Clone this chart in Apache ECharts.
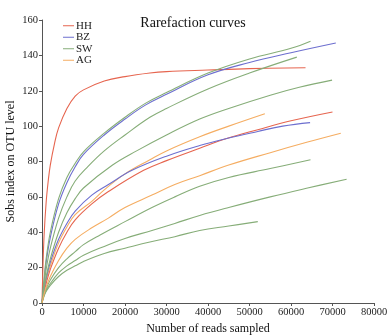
<!DOCTYPE html>
<html>
<head>
<meta charset="utf-8">
<script src="https://cdn.jsdelivr.net/npm/echarts@6/dist/echarts.min.js"></script>
<style>html,body{margin:0;padding:0;background:#fff}#main{width:392px;height:336px}</style>
</head>
<body>
<div id="main"></div>
<script>
// 曲线数据 [reads, sobs]
var hh1 = [[0,0],[200,18],[500,38],[1000,57],[1500,69],[2000,78],[3000,90],[4000,99],[6000,110],[8000,117],[10000,120.5],[15000,125.5],[20000,128],[26000,130],[30000,130.8],[40000,131.7],[50000,132.5],[63500,133]];
var hh2 = [[0,0],[500,6],[1000,11],[2000,19],[4000,31],[6000,40],[8000,47],[12000,56],[16000,63],[24500,75],[30000,80.5],[38000,87.5],[44500,93],[52000,98],[60000,103],[70000,108]];
var bz1 = [[0,0],[500,12],[1000,23],[2000,37],[4000,56],[6000,68],[8000,77],[10000,84],[15000,95],[20000,104],[25000,112],[30000,118],[40000,129],[50000,136],[60000,141.5],[70800,147]];
var bz2 = [[0,0],[500,8],[1000,14],[2000,23],[4000,36],[6000,45],[8000,52],[12000,61],[16000,67],[21700,75],[30000,83],[38000,89],[44500,93],[52000,97],[58000,100],[64600,102]];
var sw1 = [[0,0],[500,14],[1000,25],[2000,40],[4000,59],[6000,71],[8000,79],[10000,85.5],[15000,96],[20000,105],[25000,113],[30000,119],[40000,130],[50000,138],[60000,144],[64700,148]];
var sw2 = [[0,0],[500,10],[1000,19],[2000,31],[4000,48],[6000,60],[8000,69],[11000,77],[15000,86],[20000,95],[26000,105],[30000,110],[40000,121],[50000,130],[61400,139]];
var sw3 = [[0,0],[500,8],[1000,15],[2000,25],[4000,40],[6000,51],[8000,59],[10000,65],[17000,78],[22800,86],[30000,95],[38000,104],[45000,110],[55000,117.5],[62000,122],[69900,126]];
var sw4 = [[0,0],[500,5],[1000,8],[2000,13],[4000,20],[6000,25],[8000,29],[10000,33],[14000,38.5],[20000,46],[26500,54],[32000,60],[38000,66],[45000,71],[55000,76],[64700,81]];
var sw5 = [[0,0],[500,4],[1000,7],[2000,11],[4000,17],[6000,21],[8000,24],[10000,27],[15000,32],[20000,36.5],[26500,41],[32000,45],[38000,49.5],[45000,54],[55000,60],[64000,65],[73400,70]];
var sw6 = [[0,0],[500,4],[1000,6.5],[2000,10],[4000,15],[6000,18.5],[8000,21],[10000,23.5],[15000,28],[20000,31],[26000,34.5],[32000,37.5],[38000,41],[45000,43.5],[52000,46]];
var ag1 = [[0,0],[500,7],[1000,13],[2000,21],[4000,34],[6000,43],[8000,50],[12000,57.5],[15000,64],[20000,73],[26000,81],[30000,86],[38000,94],[45000,100],[53700,107]];
var ag2 = [[0,0],[500,5],[1000,9],[2000,15],[4000,24],[6000,31],[8000,36],[12000,42.5],[16000,48],[20000,54],[26500,61],[32000,67],[38000,72],[45000,78],[55000,85],[64000,91],[72000,96]];

var groups = ['HH','BZ','SW','AG'];
var colors = {HH:'#e6654f', BZ:'#6d6fcf', SW:'#86ad78', AG:'#f5ad62'};

var myChart = echarts.init(document.getElementById('main'));

function mk(name, data){
    return {
        name: name,
        type: 'line',
        data: data,
        smooth: 0.4,
        showSymbol: false,
        silent: true,
        itemStyle: {color: colors[name]},
        lineStyle: {color: colors[name], width: 1.1}
    };
}

var font = 'Liberation Serif';
option = {
    animation: false,
    backgroundColor: '#fff',
    title: {
        text: 'Rarefaction curves',
        left: 188, top: 11,
        textAlign: 'center',
        textStyle: {fontFamily: font, fontSize: 14, fontWeight: 'normal', color: '#111'}
    },
    legend: {
        data: groups,
        orient: 'vertical',
        left: 58, top: 15,
        icon: 'rect',
        itemWidth: 11, itemHeight: 1,
        itemGap: 0,
        textStyle: {fontFamily: font, fontSize: 11, color: '#222', lineHeight: 11.5, padding: [0,0,0,-3]}
    },
    grid: {left: 42, right: 18, top: 20, bottom: 33, outerBoundsMode: 'none'},
    xAxis: {
        type: 'value',
        min: 0, max: 80000, interval: 10000,
        name: 'Number of reads sampled',
        nameLocation: 'middle',
        nameGap: 20,
        nameMoveOverlap: false,
        nameTextStyle: {fontFamily: font, fontSize: 12, color: '#111'},
        axisLine: {lineStyle: {color: '#555'}},
        axisTick: {length: 3, lineStyle: {color: '#555'}},
        axisLabel: {fontFamily: font, fontSize: 10.5, color: '#222', margin: 4,
            formatter: function(v){ return String(v); }},
        splitLine: {show: false}
    },
    yAxis: {
        type: 'value',
        min: 0, max: 160, interval: 20,
        name: 'Sobs index on OTU level',
        nameLocation: 'middle',
        nameGap: 25,
        nameMoveOverlap: false,
        nameTextStyle: {fontFamily: font, fontSize: 12, color: '#111'},
        axisLine: {show: true, lineStyle: {color: '#555'}},
        axisTick: {show: true, length: 3, lineStyle: {color: '#555'}},
        axisLabel: {fontFamily: font, fontSize: 10.5, color: '#222', margin: 4},
        splitLine: {show: false}
    },
    series: [
        mk('HH', hh1), mk('BZ', bz1), mk('SW', sw1), mk('AG', ag1),
        mk('HH', hh2), mk('BZ', bz2), mk('SW', sw2), mk('SW', sw3),
        mk('SW', sw4), mk('SW', sw5), mk('SW', sw6), mk('AG', ag2)
    ]
};
myChart.setOption(option, true);
</script>
</body>
</html>
